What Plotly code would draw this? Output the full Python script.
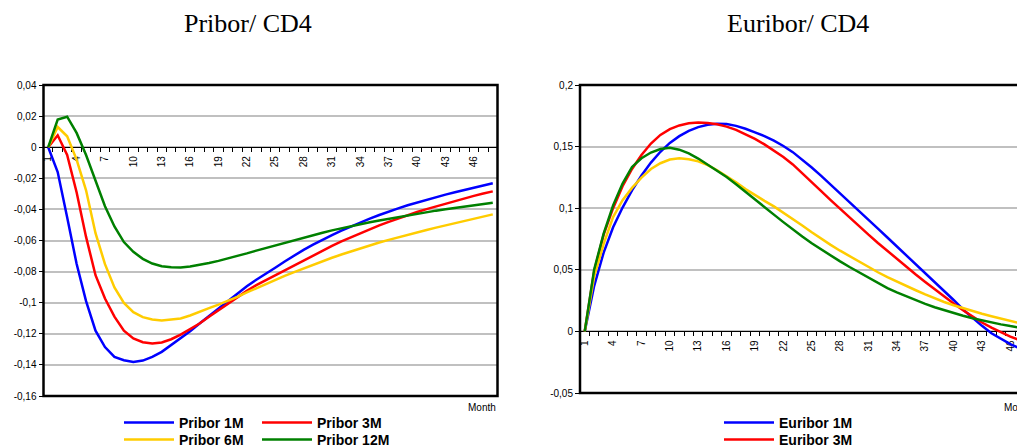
import plotly.graph_objects as go

# ---------------- data ----------------
months = list(range(1, 49))
x_tick_vals = list(range(1, 49, 3))
x_tick_text = [str(v) for v in x_tick_vals]

pribor_1m = [0, -0.016, -0.045, -0.075, -0.099, -0.118, -0.1285, -0.1348, -0.137, -0.1382,
             -0.1372, -0.1348, -0.1316, -0.1273, -0.123, -0.1183, -0.1134, -0.1085, -0.1037, -0.0988,
             -0.0941, -0.0894, -0.0852, -0.0815, -0.0775, -0.0735, -0.0697, -0.066, -0.0627, -0.0595,
             -0.0565, -0.0537, -0.051, -0.0483, -0.0459, -0.0436, -0.0413, -0.0393, -0.0373, -0.0355,
             -0.0338, -0.0321, -0.0305, -0.029, -0.0275, -0.026, -0.0246, -0.0232]
pribor_3m = [0, 0.0077, -0.005, -0.029, -0.0577, -0.0823, -0.0973, -0.109, -0.118, -0.123,
             -0.1254, -0.1262, -0.1256, -0.1235, -0.1205, -0.1172, -0.1134, -0.1091, -0.1048, -0.1005,
             -0.0962, -0.0924, -0.0887, -0.0855, -0.0823, -0.0791, -0.0759, -0.0726, -0.0695, -0.0665,
             -0.0635, -0.0606, -0.0579, -0.0552, -0.0527, -0.0503, -0.048, -0.0458, -0.0437, -0.0417,
             -0.0398, -0.038, -0.0362, -0.0345, -0.0329, -0.0313, -0.0298, -0.0284]
pribor_6m = [0, 0.013, 0.007, -0.008, -0.0277, -0.0553, -0.0752, -0.0902, -0.1001, -0.1061,
             -0.1093, -0.1108, -0.1115, -0.111, -0.1101, -0.1082, -0.1061, -0.1035, -0.1012, -0.0988,
             -0.0962, -0.0934, -0.0906, -0.088, -0.0853, -0.0827, -0.0803, -0.0779, -0.0756, -0.0733,
             -0.0711, -0.069, -0.067, -0.065, -0.0631, -0.0613, -0.0596, -0.0579, -0.0563, -0.0547,
             -0.0532, -0.0517, -0.0502, -0.0488, -0.0474, -0.046, -0.0446, -0.0432]
pribor_12m = [0, 0.0178, 0.0196, 0.0092, -0.005, -0.022, -0.038, -0.051, -0.061, -0.0673,
              -0.0718, -0.0748, -0.0765, -0.0772, -0.0773, -0.0767, -0.0757, -0.0745, -0.0731, -0.0716,
              -0.07, -0.0683, -0.0665, -0.0648, -0.0631, -0.0614, -0.0597, -0.0581, -0.0565, -0.055,
              -0.0535, -0.0521, -0.0508, -0.0495, -0.0483, -0.0471, -0.046, -0.0449, -0.0438, -0.0428,
              -0.0418, -0.0408, -0.0399, -0.039, -0.0381, -0.0373, -0.0365, -0.0357]

euribor_1m = [0, 0.037, 0.064, 0.0845, 0.1005, 0.1145, 0.1265, 0.137, 0.1458, 0.153,
              0.1585, 0.1628, 0.1658, 0.1677, 0.1686, 0.1684, 0.1668, 0.1645, 0.1615, 0.1585,
              0.1548, 0.1505, 0.1455, 0.1395, 0.133, 0.1262, 0.1192, 0.1121, 0.105, 0.0978,
              0.0906, 0.0834, 0.0762, 0.069, 0.0618, 0.0546, 0.0474, 0.0403, 0.0333, 0.0255,
              0.0178, 0.0108, 0.0045, -0.0015, -0.0062, -0.0103, -0.0138, -0.0166]
euribor_3m = [0, 0.049, 0.0785, 0.1, 0.1178, 0.1318, 0.1432, 0.1525, 0.1595, 0.1642,
              0.1672, 0.1689, 0.1695, 0.1692, 0.1681, 0.1662, 0.1636, 0.16, 0.1562, 0.1518,
              0.147, 0.1415, 0.1355, 0.1285, 0.1212, 0.1138, 0.1065, 0.0993, 0.0922, 0.0852,
              0.0785, 0.0718, 0.0652, 0.0588, 0.0525, 0.0462, 0.0401, 0.0341, 0.0283, 0.0226,
              0.0171, 0.012, 0.0072, 0.003, -0.0008, -0.0042, -0.0072, -0.0098]
euribor_6m = [0, 0.0446, 0.0711, 0.0928, 0.1065, 0.1165, 0.1248, 0.1318, 0.1365, 0.1395,
              0.1405, 0.1398, 0.138, 0.135, 0.1308, 0.1262, 0.121, 0.1155, 0.1105, 0.106,
              0.1015, 0.0965, 0.0915, 0.086, 0.0805, 0.075, 0.0702, 0.0655, 0.061, 0.0565,
              0.0522, 0.048, 0.044, 0.0403, 0.0368, 0.0334, 0.03, 0.0268, 0.0239, 0.0212,
              0.0187, 0.0164, 0.0143, 0.0123, 0.0103, 0.0084, 0.0065, 0.0047]
euribor_12m = [0, 0.0503, 0.0793, 0.1023, 0.12, 0.1335, 0.1405, 0.1452, 0.148, 0.149,
               0.1475, 0.1445, 0.1403, 0.1355, 0.1305, 0.1253, 0.1195, 0.1135, 0.1073, 0.101,
               0.0948, 0.0887, 0.0827, 0.077, 0.0715, 0.0664, 0.0615, 0.0568, 0.0523, 0.048,
               0.0432, 0.0391, 0.0352, 0.0316, 0.0283, 0.0252, 0.0223, 0.0196, 0.0171, 0.0148,
               0.0127, 0.0107, 0.0089, 0.0072, 0.0057, 0.0043, 0.003, 0.0019]

pribor_y_vals = [0.04, 0.02, 0, -0.02, -0.04, -0.06, -0.08, -0.1, -0.12, -0.14, -0.16]
pribor_y_text = ["0,04", "0,02", "0", "-0,02", "-0,04", "-0,06", "-0,08", "-0,1", "-0,12", "-0,14", "-0,16"]
euribor_y_vals = [0.2, 0.15, 0.1, 0.05, 0, -0.05]
euribor_y_text = ["0,2", "0,15", "0,1", "0,05", "0", "-0,05"]

pribor_names = ["Pribor 1M", "Pribor 3M", "Pribor 6M", "Pribor 12M"]
euribor_names = ["Euribor 1M", "Euribor 3M", "Euribor 6M", "Euribor 12M"]
colors = ["#0000FF", "#FF0000", "#FFCC00", "#008000"]

# ---------------- layout geometry (screen pixels; page body adds an 8px offset) ----------------
W, H = 1025, 448
OFF = 8

def sx(s):
    return (s - OFF) / W

def sy(s):
    return 1 - (s - OFF) / H

L_x0, L_x1, L_top, L_bot = 43.5, 497.5, 85, 396
R_x0, R_x1, R_top, R_bot = 580, W + OFF, 85, 393
px_per_month = (L_x1 - L_x0) / 48.0
L_yr = [-0.16, 0.04]
R_yr = [-0.05, 0.2]
R_xr = [0.5, 0.5 + (R_x1 - R_x0) / px_per_month]

Ly = [sy(L_bot), sy(L_top)]
Ry = [sy(R_bot), sy(R_top)]
L_zero = Ly[0] + (0 - L_yr[0]) / (L_yr[1] - L_yr[0]) * (Ly[1] - Ly[0])
R_zero = Ry[0] + (0 - R_yr[0]) / (R_yr[1] - R_yr[0]) * (Ry[1] - Ry[0])

FONT = "Liberation Sans, Arial, sans-serif"

fig = go.Figure()

left_series = [pribor_1m, pribor_3m, pribor_6m, pribor_12m]
left_leg = ["legend", "legend", "legend3", "legend3"]
for name, ys, c, lg in zip(pribor_names, left_series, colors, left_leg):
    fig.add_trace(go.Scatter(x=months, y=ys, mode="lines", name=name,
                             line=dict(color=c, width=2.5), xaxis="x", yaxis="y",
                             legend=lg))

right_series = [euribor_1m, euribor_3m, euribor_6m, euribor_12m]
right_leg = ["legend2", "legend4", "legend4", "legend4"]
for i, (name, ys, c, lg) in enumerate(zip(euribor_names, right_series, colors, right_leg)):
    fig.add_trace(go.Scatter(x=months, y=ys, mode="lines", name=name,
                             line=dict(color=c, width=2.5), xaxis="x2", yaxis="y2",
                             legend=lg, showlegend=(i < 2)))

xcommon = dict(
    anchor="free", showline=True, linecolor="black", linewidth=1,
    tickmode="array", tickvals=x_tick_vals, ticktext=x_tick_text,
    tickangle=-90, ticks="", showgrid=False, zeroline=False,
    tickfont=dict(family=FONT, size=10, color="black"), ticklabelstandoff=4,
    minor=dict(tick0=0.5, dtick=1, ticks="outside", ticklen=4, tickcolor="black", tickwidth=1),
    layer="below traces", fixedrange=True, automargin=False,
)
ycommon = dict(
    showline=False, ticks="outside", ticklen=4, tickcolor="black", tickwidth=1,
    tickmode="array", showgrid=True, gridcolor="#C0C0C0", gridwidth=1.5,
    zeroline=False, tickfont=dict(family=FONT, size=10, color="black"), fixedrange=True,
    automargin=False,
)

legend_font = dict(family=FONT, size=14, color="black", weight="bold")
legend_common = dict(
    orientation="h", xanchor="left", yanchor="middle", bgcolor="rgba(0,0,0,0)",
    font=legend_font, entrywidthmode="pixels", entrywidth=73, itemwidth=50,
    borderwidth=0, tracegroupgap=0,
)

fig.update_layout(
    width=W, height=H, margin=dict(l=0, r=0, t=0, b=0, pad=0, autoexpand=False),
    paper_bgcolor="white", plot_bgcolor="white",
    xaxis=dict(domain=[sx(L_x0), sx(L_x1)], range=[0.5, 48.5], position=L_zero, **xcommon),
    yaxis=dict(domain=Ly, range=L_yr, anchor="x", tickvals=pribor_y_vals, ticktext=pribor_y_text, **ycommon),
    xaxis2=dict(domain=[sx(R_x0), 1.0], range=R_xr, position=R_zero, **xcommon),
    yaxis2=dict(domain=Ry, range=R_yr, anchor="x2", tickvals=euribor_y_vals, ticktext=euribor_y_text, **ycommon),
    legend=dict(x=sx(119), y=sy(423), **legend_common),
    legend3=dict(x=sx(119), y=sy(440), **legend_common),
    legend2=dict(x=sx(719), y=sy(423), **legend_common),
    legend4=dict(x=sx(719), y=sy(440), **legend_common),
    showlegend=True,
)

# plot-area frames
fig.add_shape(type="rect", xref="x domain", yref="y domain", x0=0, x1=1, y0=0, y1=1,
              line=dict(color="black", width=2.5), layer="above")
fig.add_shape(type="rect", xref="x2 domain", yref="y2 domain", x0=0, x1=1.02, y0=0, y1=1,
              line=dict(color="black", width=2.5), layer="above")

# titles and axis captions
TITLE_FONT = dict(family="Liberation Serif, Times New Roman, serif", size=26, color="black")
fig.add_annotation(text="Pribor/ CD4", x=sx(248), y=sy(23), xref="paper", yref="paper",
                   showarrow=False, xanchor="center", yanchor="middle", font=TITLE_FONT)
fig.add_annotation(text="Euribor/ CD4", x=sx(798), y=sy(23), xref="paper", yref="paper",
                   showarrow=False, xanchor="center", yanchor="middle", font=TITLE_FONT)
fig.add_annotation(text="Month", x=sx(L_x1), y=sy(400), xref="paper", yref="paper",
                   showarrow=False, xanchor="right", yanchor="top",
                   font=dict(family=FONT, size=10, color="black"))
fig.add_annotation(text="Month", x=sx(1034), y=sy(400), xref="paper", yref="paper",
                   showarrow=False, xanchor="right", yanchor="top",
                   font=dict(family=FONT, size=10, color="black"))

fig.write_html("out.html")
